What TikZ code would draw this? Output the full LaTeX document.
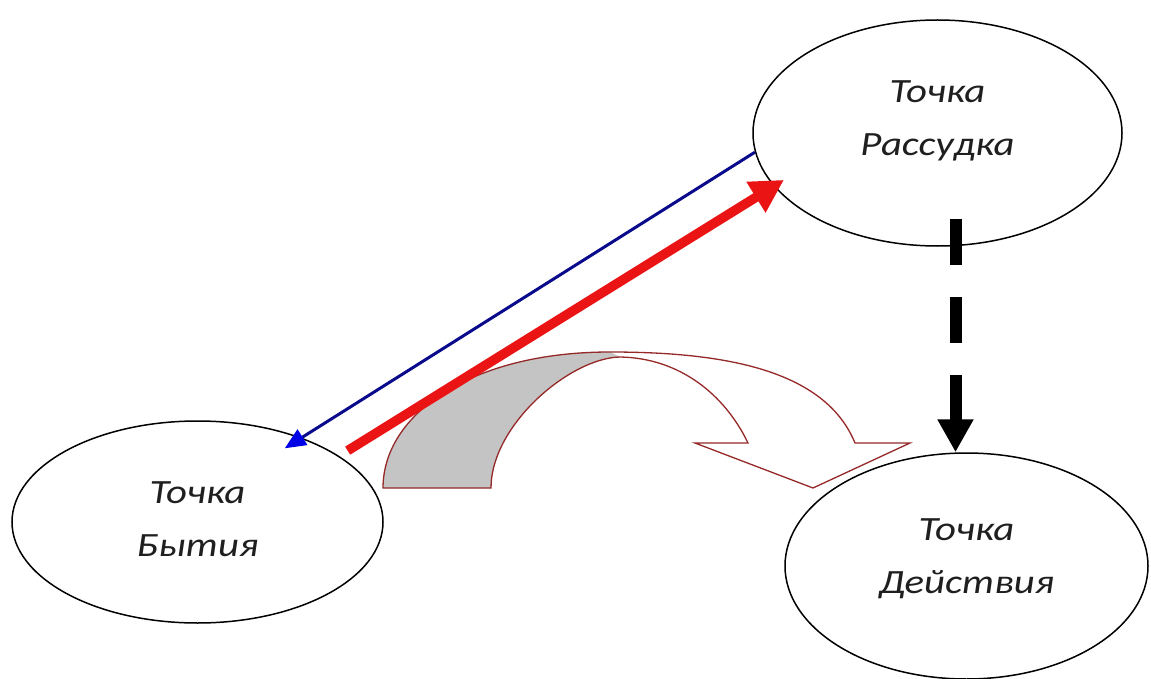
\documentclass[tikz,border=0pt]{standalone}
\usepackage{fontspec}
\setmainfont{Carlito}
\usetikzlibrary{shapes.geometric,arrows.meta}
\definecolor{redA}{RGB}{235,20,20}
\definecolor{navyA}{RGB}{10,10,140}
\definecolor{blueA}{RGB}{0,0,230}
\definecolor{brownA}{RGB}{150,40,40}
\definecolor{grayA}{RGB}{196,196,196}
\newcommand{\wideline}[1]{\scalebox{1.2}[1]{#1}}
\begin{document}
\begin{tikzpicture}[x=1pt,y=-1pt,
  oval/.style={ellipse,draw=black,line width=1.5pt,inner sep=0pt},
  lbl/.style={font=\fontsize{34}{53}\selectfont\itshape,align=center,text=black!88,inner sep=0pt},
  bandline/.style={draw=brownA,line width=1.3pt,line join=miter},
  blueconn/.style={navyA,line width=3pt,-{Triangle[length=21pt,width=18pt,color=blueA]}},
  redconn/.style={redA,line width=9.5pt,-{Triangle[length=33pt,width=34pt]}},
  blackconn/.style={black,line width=12pt,dash pattern=on 46pt off 32pt,-{Triangle[length=33pt,width=34pt]}}]
\useasboundingbox (0,0) rectangle (1151,679);
\fill[white] (0,0) rectangle (1151,679);

% ovals
\node[oval,minimum width=369pt,minimum height=226pt] (R) at (937.5,133) {};
\node[oval,minimum width=371pt,minimum height=202pt] (B) at (197.5,522) {};
\node[oval,minimum width=363pt,minimum height=226pt] (D) at (966.5,566) {};

\node[lbl] (Rt) at ([yshift=12pt]R.center) {\wideline{Точка}\\\wideline{Рассудка}};
\node[lbl] (Bt) at ([yshift=3pt]B.center) {\wideline{Точка}\\\wideline{Бытия}};
\node[lbl] (Dt) at ([yshift=7pt]D.center) {\wideline{Точка}\\\wideline{Действия}};

% curved arrow
\fill[white] (383,488) .. controls (383,415) and (470,352) .. (610,352)
  .. controls (725,352) and (825,370) .. (855,443) -- (910,443) -- (813,488)
  -- (695,443) -- (748,443) .. controls (725,395) and (680,358) .. (620,357)
  .. controls (570,358) and (491,425) .. (491,488) -- cycle;
\fill[grayA] (383,488) .. controls (383,415) and (470,352) .. (610,352)
  -- (620,357) .. controls (570,358) and (491,425) .. (491,488) -- cycle;
\draw[bandline] (383,488) .. controls (383,415) and (470,352) .. (610,352)
  .. controls (725,352) and (825,370) .. (855,443) -- (910,443) -- (813,488)
  -- (695,443) -- (748,443) .. controls (725,395) and (680,358) .. (620,357)
  .. controls (570,358) and (491,425) .. (491,488) -- cycle;

% connectors
\draw[blueconn,shorten >=-20pt] (R.186) -- (B.39);
\draw[redconn,shorten <=10pt,shorten >=-12pt] (B.25) -- (R.198);
\draw[blackconn] ([shift={(18,-28)}]R.south) -- ([xshift=-11pt]D.north);
\end{tikzpicture}
\end{document}
